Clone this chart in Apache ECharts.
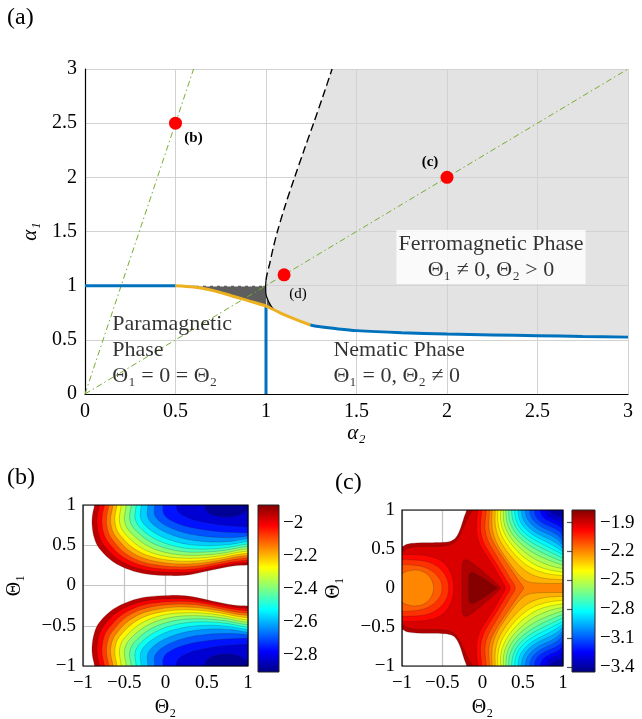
<!DOCTYPE html>
<html>
<head>
<meta charset="utf-8">
<title>Phase diagram and energy landscapes</title>
<script src="https://cdn.jsdelivr.net/npm/echarts@6.0.0/dist/echarts.min.js"></script>
<style>
  html, body { margin: 0; padding: 0; background: #ffffff; }
  #chart { width: 642px; height: 719px; }
</style>
</head>
<body>
<div id="chart"></div>
<script>
// ---------- (a) phase diagram in the (alpha2, alpha1) plane ----------
const paraNematicLine = [[0, 1], [0.5, 1]];
const nematicVertical = [[1, 0], [1, 0.812]];
const firstOrderCurve = [[0.5, 1.0], [0.6, 0.988], [0.7, 0.958], [0.8, 0.912], [0.9, 0.862], [1.0, 0.812], [1.075, 0.752], [1.15, 0.698], [1.245, 0.637]];
const secondOrderCurve = [[1.245, 0.637], [1.3, 0.62], [1.4, 0.6], [1.5, 0.585], [1.75, 0.566], [2.0, 0.553], [2.25, 0.545], [2.5, 0.538], [2.75, 0.531], [3.0, 0.525]];
const ferroDashed = [[1.0, 1.05], [1.005, 1.1], [1.02, 1.2], [1.04, 1.35], [1.063, 1.5], [1.108, 1.75], [1.158, 2.0], [1.21, 2.25], [1.263, 2.5], [1.315, 2.75], [1.365, 3.0]];
const ferroSolid = [[1.0, 1.05], [0.998, 1.0], [0.999, 0.93], [1.015, 0.852], [1.042, 0.782], [1.075, 0.752]];
const coexistEdge = [[0.63, 1], [0.985, 1]];
const rayB = [[0, 0], [0.6, 3]];
const rayCD = [[0, 0], [3, 3]];
const sampleNames = ['(b)', '(c)', '(d)'];
const sampleAlpha2 = [0.5, 2, 1.1];
const sampleAlpha1 = [2.5, 2, 1.1];

// ---------- (b) energy landscape at sample point (b) ----------
const bRange = [-2.9, -1.89];
const bTicks = [-2.8, -2.6, -2.4, -2.2, -2];
const bLevels = [-1.95, -2.012, -2.074, -2.136, -2.198, -2.26, -2.322, -2.384, -2.446, -2.508, -2.57, -2.632, -2.694, -2.756, -2.818, -2.88];
// upper lobe contours (Theta2, Theta1), from the top edge round to the right edge
const bContours = [
  [[-0.86, 1], [-0.885, 0.88], [-0.89, 0.75], [-0.86, 0.58], [-0.8, 0.457], [-0.636, 0.296], [-0.434, 0.195], [-0.232, 0.143], [0.05, 0.123], [0.293, 0.135], [0.576, 0.195], [0.818, 0.243], [1, 0.255]],
  [[-0.8, 1], [-0.825, 0.88], [-0.83, 0.76], [-0.8, 0.6], [-0.74, 0.49], [-0.59, 0.335], [-0.4, 0.235], [-0.2, 0.183], [0.08, 0.162], [0.32, 0.172], [0.6, 0.225], [0.83, 0.27], [1, 0.285]],
  [[-0.74, 1], [-0.765, 0.88], [-0.77, 0.77], [-0.74, 0.62], [-0.68, 0.52], [-0.545, 0.375], [-0.365, 0.275], [-0.17, 0.222], [0.1, 0.198], [0.35, 0.206], [0.62, 0.255], [0.84, 0.298], [1, 0.315]],
  [[-0.685, 1], [-0.71, 0.88], [-0.715, 0.77], [-0.685, 0.64], [-0.625, 0.545], [-0.5, 0.41], [-0.33, 0.312], [-0.14, 0.26], [0.1, 0.233], [0.37, 0.24], [0.64, 0.285], [0.85, 0.328], [1, 0.345]],
  [[-0.636, 1], [-0.66, 0.88], [-0.665, 0.78], [-0.635, 0.66], [-0.575, 0.57], [-0.455, 0.445], [-0.295, 0.35], [-0.11, 0.298], [0.12, 0.268], [0.39, 0.274], [0.66, 0.315], [0.86, 0.356], [1, 0.372]],
  [[-0.588, 1], [-0.61, 0.88], [-0.613, 0.79], [-0.585, 0.68], [-0.525, 0.595], [-0.41, 0.48], [-0.26, 0.39], [-0.08, 0.335], [0.14, 0.305], [0.41, 0.308], [0.68, 0.345], [0.87, 0.385], [1, 0.4]],
  [[-0.535, 1], [-0.555, 0.88], [-0.558, 0.8], [-0.53, 0.7], [-0.47, 0.62], [-0.36, 0.515], [-0.22, 0.43], [-0.05, 0.373], [0.16, 0.342], [0.43, 0.342], [0.7, 0.375], [0.88, 0.413], [1, 0.428]],
  [[-0.475, 1], [-0.495, 0.88], [-0.497, 0.81], [-0.47, 0.72], [-0.41, 0.645], [-0.305, 0.55], [-0.175, 0.47], [-0.01, 0.413], [0.19, 0.38], [0.45, 0.378], [0.72, 0.405], [0.89, 0.442], [1, 0.456]],
  [[-0.414, 1], [-0.433, 0.89], [-0.433, 0.82], [-0.405, 0.74], [-0.345, 0.67], [-0.25, 0.585], [-0.125, 0.51], [0.03, 0.455], [0.22, 0.42], [0.47, 0.415], [0.73, 0.438], [0.9, 0.472], [1, 0.485]],
  [[-0.354, 1], [-0.37, 0.89], [-0.368, 0.83], [-0.34, 0.76], [-0.285, 0.695], [-0.195, 0.62], [-0.075, 0.552], [0.07, 0.5], [0.25, 0.462], [0.5, 0.452], [0.75, 0.472], [0.91, 0.503], [1, 0.515]],
  [[-0.293, 1], [-0.306, 0.9], [-0.302, 0.84], [-0.275, 0.78], [-0.22, 0.72], [-0.135, 0.655], [-0.025, 0.595], [0.11, 0.548], [0.29, 0.508], [0.53, 0.493], [0.77, 0.508], [0.92, 0.535], [1, 0.547]],
  [[-0.212, 1], [-0.222, 0.91], [-0.215, 0.85], [-0.19, 0.8], [-0.14, 0.75], [-0.065, 0.695], [0.035, 0.645], [0.16, 0.6], [0.33, 0.562], [0.56, 0.54], [0.79, 0.548], [0.93, 0.57], [1, 0.58]],
  [[-0.131, 1], [-0.138, 0.92], [-0.128, 0.87], [-0.1, 0.825], [-0.05, 0.78], [0.02, 0.735], [0.11, 0.695], [0.23, 0.655], [0.39, 0.622], [0.6, 0.6], [0.81, 0.597], [0.94, 0.607], [1, 0.615]],
  [[-0.03, 1], [-0.032, 0.93], [-0.015, 0.88], [0.02, 0.84], [0.08, 0.8], [0.16, 0.765], [0.27, 0.73], [0.42, 0.7], [0.6, 0.675], [0.8, 0.66], [0.94, 0.655], [1, 0.655]],
  [[0.131, 1], [0.14, 0.94], [0.17, 0.9], [0.22, 0.865], [0.3, 0.83], [0.4, 0.8], [0.52, 0.775], [0.66, 0.755], [0.82, 0.74], [1, 0.73]],
  [[0.475, 1], [0.5, 0.93], [0.56, 0.885], [0.65, 0.86], [0.76, 0.855], [0.87, 0.87], [0.95, 0.91], [1, 0.95]]
];

// ---------- (c) energy landscape at sample point (c) ----------
const cRange = [-3.45, -1.77];
const cTicks = [-3.4, -3.1, -2.8, -2.5, -2.2, -1.9];
// upper halves (Theta1 >= 0); every region is mirrored in Theta1
const cOuterLevel = -1.85;
const cOuter = [[-1.25, 0.53], [-1.0, 0.53], [-0.94, 0.562], [-0.82, 0.577], [-0.62, 0.58], [-0.48, 0.585], [-0.395, 0.6], [-0.335, 0.64], [-0.29, 0.72], [-0.255, 0.82], [-0.225, 0.92], [-0.197, 1.0]];
const cBodyLevel = -1.92;
const cBody = [[-1.25, 0.47], [-1.0, 0.47], [-0.93, 0.51], [-0.8, 0.528], [-0.6, 0.532], [-0.47, 0.54], [-0.39, 0.56], [-0.325, 0.605], [-0.275, 0.69], [-0.225, 0.8], [-0.175, 0.91], [-0.126, 1.0]];
const cRingLevels = [-1.99, -2.06, -2.13, -2.2];
const cRings = [
  [[-1.25, 0.43], [-1.0, 0.43], [-0.85, 0.428], [-0.7, 0.415], [-0.56, 0.375], [-0.45, 0.29], [-0.385, 0.17], [-0.362, 0.07], [-0.358, 0]],
  [[-1.25, 0.365], [-1.0, 0.365], [-0.86, 0.36], [-0.72, 0.345], [-0.6, 0.3], [-0.505, 0.225], [-0.445, 0.13], [-0.423, 0.05], [-0.42, 0]],
  [[-1.25, 0.3], [-1.0, 0.3], [-0.88, 0.295], [-0.75, 0.275], [-0.645, 0.23], [-0.565, 0.16], [-0.515, 0.08], [-0.503, 0]],
  [[-1.25, 0.1], [-1.05, 0.14], [-0.97, 0.2], [-0.9, 0.223], [-0.835, 0.23], [-0.75, 0.215], [-0.68, 0.17], [-0.63, 0.1], [-0.607, 0]]
];
const cRidgeLevels = [-1.99, -2.06, -2.13, -2.2];
const cRidges = [
  [[-0.06, 1], [-0.07, 0.88], [-0.075, 0.76], [-0.06, 0.64], [-0.02, 0.53], [0.04, 0.43], [0.11, 0.32], [0.18, 0.2], [0.24, 0.09], [0.283, 0]],
  [[-0.007, 1], [-0.02, 0.88], [-0.025, 0.77], [-0.01, 0.66], [0.025, 0.56], [0.08, 0.46], [0.15, 0.35], [0.22, 0.23], [0.29, 0.11], [0.345, 0]],
  [[0.047, 1], [0.035, 0.88], [0.03, 0.78], [0.045, 0.68], [0.08, 0.58], [0.135, 0.48], [0.2, 0.37], [0.27, 0.25], [0.34, 0.13], [0.407, 0]],
  [[0.089, 1], [0.08, 0.88], [0.078, 0.79], [0.095, 0.69], [0.13, 0.6], [0.19, 0.49], [0.26, 0.38], [0.34, 0.26], [0.42, 0.14], [0.48, 0.05], [0.511, 0]]
];
const cBasinLevels = [-2.27, -2.34, -2.41, -2.48, -2.55, -2.62, -2.69, -2.76, -2.83, -2.9, -2.97, -3.04, -3.11, -3.18, -3.25, -3.32, -3.39];
const cBasins = [
  [[0.122, 1], [0.115, 0.88], [0.12, 0.77], [0.145, 0.66], [0.19, 0.55], [0.25, 0.45], [0.33, 0.33], [0.41, 0.22], [0.49, 0.13], [0.57, 0.08], [0.7, 0.062], [0.85, 0.058], [1, 0.058]],
  [[0.159, 1], [0.155, 0.88], [0.165, 0.77], [0.195, 0.66], [0.245, 0.56], [0.31, 0.46], [0.39, 0.36], [0.48, 0.265], [0.58, 0.19], [0.7, 0.14], [0.84, 0.115], [1, 0.108]],
  [[0.192, 1], [0.19, 0.88], [0.205, 0.775], [0.24, 0.67], [0.29, 0.58], [0.36, 0.48], [0.44, 0.39], [0.54, 0.3], [0.65, 0.235], [0.78, 0.19], [0.9, 0.168], [1, 0.158]],
  [[0.225, 1], [0.225, 0.88], [0.243, 0.78], [0.28, 0.685], [0.33, 0.6], [0.4, 0.51], [0.48, 0.425], [0.58, 0.345], [0.69, 0.28], [0.82, 0.235], [1, 0.205]],
  [[0.258, 1], [0.26, 0.89], [0.28, 0.79], [0.32, 0.7], [0.37, 0.62], [0.44, 0.54], [0.52, 0.465], [0.62, 0.39], [0.73, 0.33], [0.86, 0.28], [1, 0.25]],
  [[0.291, 1], [0.295, 0.89], [0.317, 0.8], [0.355, 0.715], [0.41, 0.64], [0.48, 0.565], [0.56, 0.5], [0.66, 0.435], [0.77, 0.38], [0.89, 0.33], [1, 0.295]],
  [[0.325, 1], [0.33, 0.9], [0.355, 0.81], [0.395, 0.73], [0.45, 0.66], [0.52, 0.595], [0.6, 0.535], [0.7, 0.475], [0.81, 0.42], [0.92, 0.37], [1, 0.34]],
  [[0.362, 1], [0.37, 0.9], [0.395, 0.82], [0.435, 0.745], [0.49, 0.68], [0.56, 0.62], [0.64, 0.565], [0.74, 0.51], [0.85, 0.455], [0.94, 0.41], [1, 0.385]],
  [[0.399, 1], [0.408, 0.91], [0.433, 0.83], [0.475, 0.76], [0.53, 0.7], [0.6, 0.645], [0.68, 0.595], [0.78, 0.545], [0.88, 0.49], [0.96, 0.45], [1, 0.43]],
  [[0.44, 1], [0.45, 0.91], [0.476, 0.84], [0.52, 0.775], [0.575, 0.72], [0.645, 0.67], [0.725, 0.625], [0.82, 0.578], [0.91, 0.525], [1, 0.47]],
  [[0.482, 1], [0.493, 0.92], [0.52, 0.85], [0.565, 0.79], [0.62, 0.74], [0.69, 0.695], [0.77, 0.655], [0.86, 0.61], [0.94, 0.56], [1, 0.51]],
  [[0.531, 1], [0.542, 0.925], [0.57, 0.865], [0.615, 0.81], [0.67, 0.765], [0.74, 0.725], [0.82, 0.69], [0.9, 0.645], [0.96, 0.595], [1, 0.55]],
  [[0.585, 1], [0.597, 0.93], [0.625, 0.875], [0.67, 0.83], [0.725, 0.79], [0.79, 0.755], [0.86, 0.72], [0.93, 0.68], [0.98, 0.63], [1, 0.595]],
  [[0.643, 1], [0.655, 0.935], [0.685, 0.885], [0.73, 0.845], [0.79, 0.81], [0.86, 0.78], [0.93, 0.745], [0.98, 0.7], [1, 0.66]],
  [[0.718, 1], [0.73, 0.945], [0.76, 0.9], [0.81, 0.865], [0.87, 0.838], [0.93, 0.81], [0.98, 0.77], [1, 0.735]],
  [[0.785, 1], [0.797, 0.95], [0.83, 0.91], [0.88, 0.885], [0.94, 0.865], [0.99, 0.83], [1, 0.81]],
  [[0.85, 1], [0.865, 0.96], [0.9, 0.935], [0.95, 0.925], [1, 0.915]]
];
const cPeakLevels = [-1.85, -1.78];
const cPeaks = [
  [[-0.255, 0], [-0.255, 0.2], [-0.25, 0.31], [-0.23, 0.355], [-0.19, 0.36], [-0.1, 0.3], [0.02, 0.2], [0.13, 0.1], [0.2, 0.035], [0.221, 0]],
  [[-0.172, 0], [-0.172, 0.1], [-0.165, 0.17], [-0.14, 0.2], [-0.1, 0.19], [0, 0.13], [0.09, 0.07], [0.15, 0.025], [0.18, 0]]
];

// ---------- helpers ----------
const SERIF = '"Liberation Serif", "DejaVu Serif", serif';
const TEXT = '#000000';
const JET = [[0, [0, 0, 128]], [0.125, [0, 0, 255]], [0.375, [0, 255, 255]], [0.625, [255, 255, 0]], [0.875, [255, 0, 0]], [1, [128, 0, 0]]];
function jetColor(t) {
  t = Math.max(0, Math.min(1, t));
  for (let i = 1; i < JET.length; i++) {
    if (t <= JET[i][0]) {
      const [t0, c0] = JET[i - 1], [t1, c1] = JET[i];
      const f = (t - t0) / (t1 - t0);
      const c = c0.map((v, k) => Math.round(v + (c1[k] - v) * f));
      return 'rgb(' + c.join(',') + ')';
    }
  }
  return 'rgb(128,0,0)';
}
const minus = v => (v < 0 ? '\u2212' : '') + String(Math.abs(Math.round(v * 100) / 100));

const EXT = 1.25;
const flip = pts => pts.map(([x, y]) => [x, -y]);
// region enclosed between a contour and the top-right corner
function capShape(pts) {
  const a = pts[0][0], r = pts[pts.length - 1][1];
  return [[a, EXT], [a, 1.1], ...pts, [1.1, r], [EXT, r], [EXT, EXT]];
}
// closed lobe hugging the left edge, given its upper half
function leftLobe(upper) {
  return [...upper, ...flip(upper.slice(0, -1)).reverse()];
}
// everything right of a symmetric ridge contour
function rightOf(upper) {
  const a = upper[0][0];
  return [[a, EXT], [a, 1.1], ...upper, ...flip(upper.slice(0, -1)).reverse(), [a, -1.1], [a, -EXT], [EXT, -EXT], [EXT, EXT]];
}
// whole coloured area, bounded by its upper-left edge and mirror
function fullRegion(upper) {
  const a = upper[upper.length - 1][0];
  return [...upper, [a, 1.1], [a, EXT], [EXT, EXT], [EXT, -EXT], [a, -EXT], [a, -1.1], ...flip(upper).reverse()];
}
// closed island on the centre line
function island(upper) {
  return [...upper, ...flip(upper.slice(1, -1)).reverse()];
}

const bShapes = [];
bContours.forEach((c, k) => {
  bShapes.push({ level: bLevels[k], pts: capShape(c) });
  bShapes.push({ level: bLevels[k], pts: flip(capShape(c)) });
});

const cShapes = [];
cShapes.push({ level: cOuterLevel, pts: fullRegion(cOuter) });
cShapes.push({ level: cBodyLevel, pts: fullRegion(cBody) });
cRings.forEach((c, k) => cShapes.push({ level: cRingLevels[k], pts: leftLobe(c) }));
cRidges.forEach((c, k) => cShapes.push({ level: cRidgeLevels[k], pts: rightOf(c) }));
cBasins.forEach((c, k) => {
  cShapes.push({ level: cBasinLevels[k], pts: capShape(c) });
  cShapes.push({ level: cBasinLevels[k], pts: flip(capShape(c)) });
});
cPeaks.forEach((c, k) => cShapes.push({ level: cPeakLevels[k], pts: island(c) }));

function contourSeries(idx, shapes, range) {
  return {
    type: 'custom', xAxisIndex: idx, yAxisIndex: idx, silent: true, clip: true, z: 2,
    data: shapes.map(() => [0, 0]),
    renderItem(params, api) {
      const s = shapes[params.dataIndex];
      const cs = params.coordSys;
      return {
        type: 'polygon',
        shape: { points: s.pts.map(p => api.coord(p)), smooth: 0.35 },
        style: { fill: jetColor((s.level - range[0]) / (range[1] - range[0])), stroke: 'rgba(30,30,30,0.35)', lineWidth: 0.6 },
        clipPath: { type: 'rect', shape: { x: cs.x, y: cs.y, width: cs.width, height: cs.height } }
      };
    }
  };
}
function frameSeries(idx) {
  return {
    type: 'custom', xAxisIndex: idx, yAxisIndex: idx, silent: true, z: 8,
    data: [[0, 0]],
    renderItem(params) {
      const cs = params.coordSys;
      return { type: 'rect', shape: { x: cs.x, y: cs.y, width: cs.width, height: cs.height }, style: { fill: null, stroke: '#000', lineWidth: 1.2 } };
    }
  };
}
function colorbarSeries(idx, range) {
  return {
    type: 'custom', xAxisIndex: idx, yAxisIndex: idx, silent: true, z: 2,
    data: [[0, range[0]]],
    renderItem(params, api) {
      const p0 = api.coord([0, range[0]]), p1 = api.coord([1, range[1]]);
      return {
        type: 'rect',
        shape: { x: p0[0], y: p1[1], width: p1[0] - p0[0], height: p0[1] - p1[1] },
        style: {
          fill: new echarts.graphic.LinearGradient(0, 1, 0, 0, JET.map(([o, c]) => ({ offset: o, color: 'rgb(' + c.join(',') + ')' }))),
          stroke: '#222', lineWidth: 1
        }
      };
    }
  };
}
function polygonSeries(points, fill, z) {
  return {
    type: 'custom', xAxisIndex: 0, yAxisIndex: 0, silent: true, z,
    data: [[0, 0]],
    renderItem(params, api) {
      return { type: 'polygon', shape: { points: points.map(p => api.coord(p)) }, style: { fill } };
    }
  };
}
function lineSeries(data, lineStyle, extra) {
  return Object.assign({ type: 'line', xAxisIndex: 0, yAxisIndex: 0, data, symbol: 'none', silent: true, lineStyle, z: 3 }, extra || {});
}

// ferromagnetic region and the coexistence wedge
const ferroRegion = [[3, 3], ...ferroDashed.slice().reverse(), ...ferroSolid.slice(1),
  ...firstOrderCurve.filter(p => p[0] > 1.075), ...secondOrderCurve.slice(1)];
const coexistRegion = [[0.5, 1], ...ferroSolid.slice(1), ...firstOrderCurve.filter(p => p[0] < 1.075).reverse()];

const tickFont = { fontFamily: SERIF, fontSize: 19, color: TEXT };
function squareAxis(gridIndex, isY, name, gap) {
  return {
    gridIndex, type: 'value', min: -1, max: 1, interval: 0.5,
    axisLine: { show: false }, axisTick: { show: false },
    axisLabel: Object.assign({ formatter: minus, margin: isY ? 7 : 8 }, tickFont),
    splitLine: { lineStyle: { color: '#c4c4c4', width: 1.2 } },
    name, nameLocation: 'middle', nameGap: gap, nameRotate: isY ? 90 : 0,
    nameTextStyle: { fontFamily: SERIF, fontSize: 20, color: TEXT }
  };
}

const option = {
  animation: false,
  backgroundColor: '#ffffff',
  grid: [
    { left: 85, top: 69, width: 543, height: 325 },
    { left: 83, top: 505, width: 165, height: 166 },
    { left: 258, top: 505, width: 21, height: 167 },
    { left: 402, top: 510, width: 161, height: 162 },
    { left: 572, top: 510, width: 23, height: 162 }
  ],
  xAxis: [
    {
      gridIndex: 0, type: 'value', min: 0, max: 3, interval: 0.5, z: 1,
      axisLine: { lineStyle: { color: '#000', width: 1.2 } }, axisTick: { show: false },
      axisLabel: Object.assign({ margin: 8 }, tickFont, { fontSize: 20 }),
      splitLine: { lineStyle: { color: '#d2d2d2', width: 1 } },
      name: 'α₂', nameLocation: 'middle', nameGap: 25,
      nameTextStyle: { fontFamily: SERIF, fontSize: 21, fontStyle: 'italic', color: TEXT }
    },
    squareAxis(1, false, 'Θ₂', 32),
    { gridIndex: 2, type: 'value', min: 0, max: 1, show: false },
    squareAxis(3, false, 'Θ₂', 32),
    { gridIndex: 4, type: 'value', min: 0, max: 1, show: false }
  ],
  yAxis: [
    {
      gridIndex: 0, type: 'value', min: 0, max: 3, interval: 0.5, z: 1,
      axisLine: { lineStyle: { color: '#000', width: 1.2 } }, axisTick: { show: false },
      axisLabel: Object.assign({ margin: 8 }, tickFont, { fontSize: 20 }),
      splitLine: { lineStyle: { color: '#d2d2d2', width: 1 } },
      name: 'α₁', nameLocation: 'middle', nameGap: 40, nameRotate: 90,
      nameTextStyle: { fontFamily: SERIF, fontSize: 21, fontStyle: 'italic', color: TEXT }
    },
    squareAxis(1, true, 'Θ₁', 58),
    {
      gridIndex: 2, type: 'value', position: 'right', min: bRange[0], max: bRange[1],
      axisLine: { show: false }, axisTick: { show: false }, splitLine: { show: false },
      axisLabel: Object.assign({ customValues: bTicks, formatter: minus, margin: 4 }, tickFont)
    },
    squareAxis(3, true, 'Θ₁', 58),
    {
      gridIndex: 4, type: 'value', position: 'right', min: cRange[0], max: cRange[1],
      axisLine: { show: false }, splitLine: { show: false },
      axisTick: { show: true, inside: true, length: 5, customValues: cTicks, lineStyle: { color: '#555', width: 1.2 } },
      axisLabel: Object.assign({ customValues: cTicks, formatter: minus, margin: 5 }, tickFont)
    },
    {
      gridIndex: 4, type: 'value', position: 'left', min: cRange[0], max: cRange[1],
      axisLine: { show: false }, splitLine: { show: false }, axisLabel: { show: false },
      axisTick: { show: true, inside: true, length: 5, customValues: cTicks, lineStyle: { color: '#555', width: 1.2 } }
    }
  ],
  graphic: [
    { type: 'text', left: 7, top: 6, style: { text: '(a)', font: '24px ' + SERIF, fill: TEXT } },
    { type: 'text', left: 7, top: 466, style: { text: '(b)', font: '24px ' + SERIF, fill: TEXT } },
    { type: 'text', left: 335, top: 471, style: { text: '(c)', font: '24px ' + SERIF, fill: TEXT } }
  ],
  series: [
    // (a)
    polygonSeries(ferroRegion, '#e3e3e3', 0),
    polygonSeries(coexistRegion, '#5e5e5e', 0),
    lineSeries(coexistEdge, { color: '#ffffff', width: 1.5, type: [4, 3] }),
    lineSeries(rayB, { color: '#77ac30', width: 1, type: [6, 3, 1.5, 3] }),
    lineSeries(rayCD, { color: '#77ac30', width: 1, type: [6, 3, 1.5, 3] }),
    lineSeries(paraNematicLine, { color: '#0072bd', width: 3 }, { z: 4 }),
    lineSeries(nematicVertical, { color: '#0072bd', width: 3 }, { z: 4 }),
    lineSeries(ferroDashed, { color: '#000', width: 1.4, type: [8, 4] }, { smooth: 0.3 }),
    lineSeries(ferroSolid, { color: '#000', width: 1.2 }, { smooth: 0.4 }),
    lineSeries(firstOrderCurve, { color: '#edb120', width: 3 }, { smooth: 0.3, z: 4 }),
    lineSeries(secondOrderCurve, { color: '#0072bd', width: 3 }, { smooth: 0.3, z: 4 }),
    {
      type: 'scatter', xAxisIndex: 0, yAxisIndex: 0, silent: true, z: 6,
      symbolSize: 13, itemStyle: { color: '#ff0000', opacity: 1 },
      data: sampleNames.map((n, i) => ({
        value: [sampleAlpha2[i], sampleAlpha1[i]], name: n,
        label: [
          { offset: [18, 15], fontWeight: 'bold' },
          { offset: [-17, -15], fontWeight: 'bold' },
          { offset: [14, 19], fontWeight: 'normal' }
        ][i]
      })),
      label: { show: true, position: 'inside', formatter: '{b}', fontFamily: SERIF, fontSize: 15, color: TEXT }
    },
    {
      type: 'scatter', xAxisIndex: 0, yAxisIndex: 0, silent: true, z: 7,
      symbolSize: 1, itemStyle: { color: 'rgba(0,0,0,0)' },
      label: { show: true, fontFamily: SERIF, fontSize: 22, lineHeight: 26, color: TEXT },
      data: [
        { value: [2.243, 1.265], label: { position: 'inside', align: 'center', formatter: 'Ferromagnetic Phase\nΘ₁ ≠ 0, Θ₂ > 0', backgroundColor: '#ffffff', padding: [1, 2] } },
        { value: [0.148, 0.402], label: { position: 'right', distance: 0, formatter: 'Paramagnetic\nPhase\nΘ₁ = 0 = Θ₂' } },
        { value: [1.37, 0.286], label: { position: 'right', distance: 0, formatter: 'Nematic Phase\nΘ₁ = 0, Θ₂ ≠ 0' } }
      ]
    },
    // (b)
    contourSeries(1, bShapes, bRange),
    frameSeries(1),
    colorbarSeries(2, bRange),
    // (c)
    contourSeries(3, cShapes, cRange),
    frameSeries(3),
    colorbarSeries(4, cRange)
  ]
};

const chart = echarts.init(document.getElementById('chart'), null, { renderer: 'canvas' });
chart.setOption(option);
</script>
</body>
</html>
